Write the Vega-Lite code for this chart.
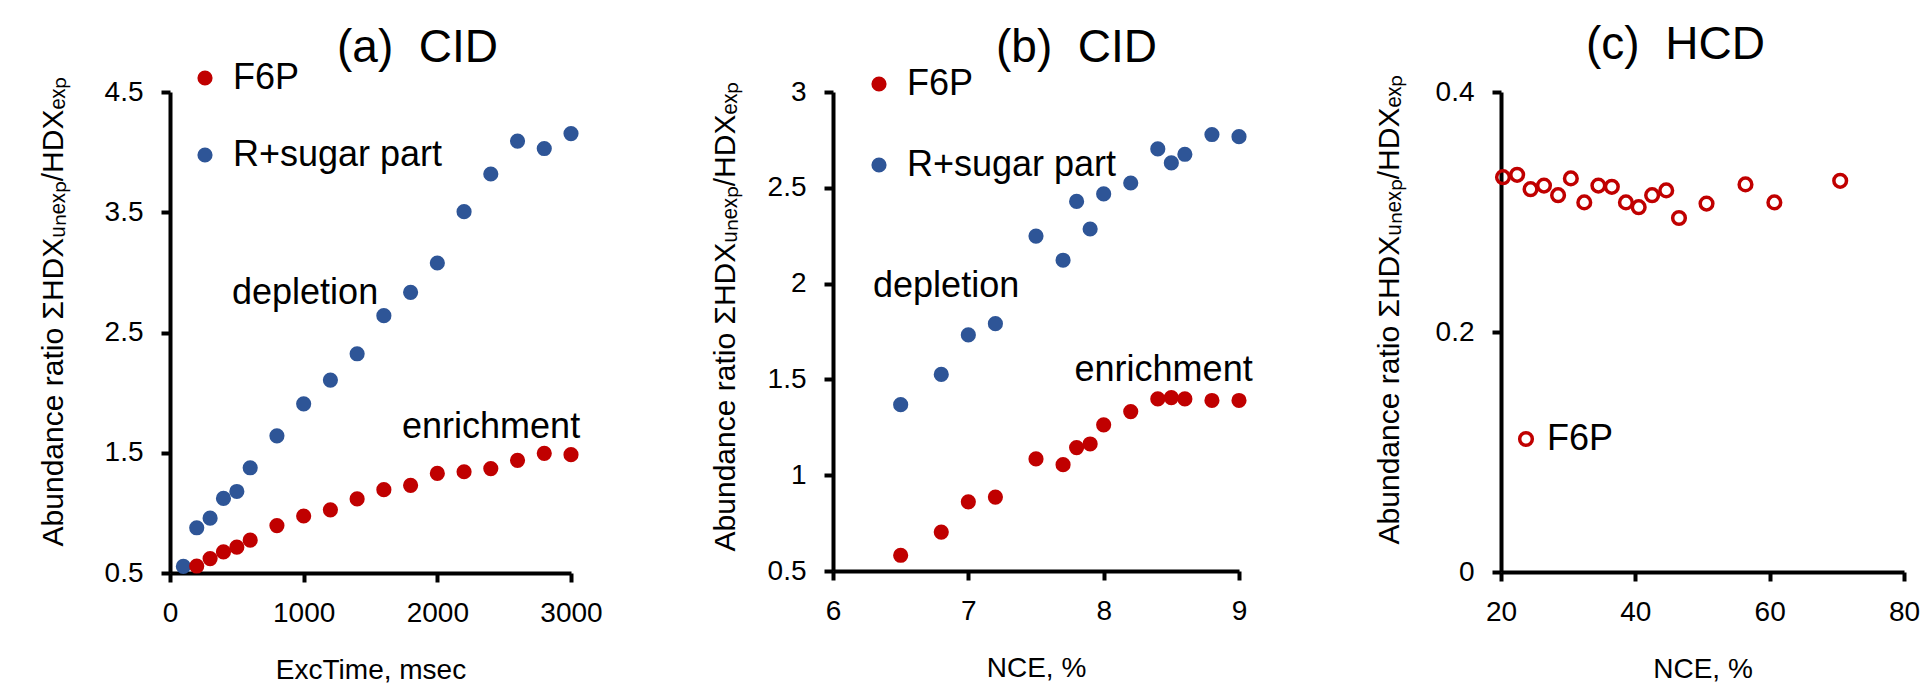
{
  "$schema": "https://vega.github.io/schema/vega-lite/v6.json",
  "padding": {"left": 38, "top": 22, "right": 0, "bottom": 0},
  "background": "white",
  "config": {
    "font": "Liberation Sans",
    "view": {"stroke": null},
    "axis": {
      "grid": false, "domainColor": "black", "domainWidth": 4,
      "tickColor": "black", "tickWidth": 4, "tickSize": 9,
      "labelColor": "black", "labelFont": "Liberation Sans", "labelFontSize": 28,
      "labelFlush": false, "labelOverlap": false,
      "titleFont": "Liberation Sans", "titleFontWeight": "normal", "titleColor": "black",
      "titleFontSize": 28, "format": "~r"
    },
    "axisX": {"labelPadding": 17, "titlePadding": 29},
    "axisY": {"labelPadding": 18, "titleFontSize": 30},
    "legend": {
      "title": null, "orient": "none", "padding": 0, "symbolType": "circle",
      "labelFont": "Liberation Sans", "labelFontSize": 36, "labelColor": "black",
      "labelLimit": 400, "labelOffset": 10
    },
    "title": {"font": "Liberation Sans", "fontSize": 46, "fontWeight": "normal", "anchor": "start", "frame": "group", "color": "black"}
  },
  "datasets": {
    "a": [
      {"series": "R+sugar part", "t": 100, "ratio": 0.555},
      {"series": "R+sugar part", "t": 200, "ratio": 0.876},
      {"series": "R+sugar part", "t": 300, "ratio": 0.956},
      {"series": "R+sugar part", "t": 400, "ratio": 1.12},
      {"series": "R+sugar part", "t": 500, "ratio": 1.178},
      {"series": "R+sugar part", "t": 600, "ratio": 1.375},
      {"series": "R+sugar part", "t": 800, "ratio": 1.641},
      {"series": "R+sugar part", "t": 1000, "ratio": 1.907},
      {"series": "R+sugar part", "t": 1200, "ratio": 2.104},
      {"series": "R+sugar part", "t": 1400, "ratio": 2.323},
      {"series": "R+sugar part", "t": 1600, "ratio": 2.64},
      {"series": "R+sugar part", "t": 1800, "ratio": 2.834},
      {"series": "R+sugar part", "t": 2000, "ratio": 3.078},
      {"series": "R+sugar part", "t": 2200, "ratio": 3.505},
      {"series": "R+sugar part", "t": 2400, "ratio": 3.818},
      {"series": "R+sugar part", "t": 2600, "ratio": 4.092},
      {"series": "R+sugar part", "t": 2800, "ratio": 4.03},
      {"series": "R+sugar part", "t": 3000, "ratio": 4.154},
      {"series": "F6P", "t": 200, "ratio": 0.558},
      {"series": "F6P", "t": 300, "ratio": 0.62},
      {"series": "F6P", "t": 400, "ratio": 0.675},
      {"series": "F6P", "t": 500, "ratio": 0.715},
      {"series": "F6P", "t": 600, "ratio": 0.773},
      {"series": "F6P", "t": 800, "ratio": 0.894},
      {"series": "F6P", "t": 1000, "ratio": 0.974},
      {"series": "F6P", "t": 1200, "ratio": 1.025},
      {"series": "F6P", "t": 1400, "ratio": 1.116},
      {"series": "F6P", "t": 1600, "ratio": 1.193},
      {"series": "F6P", "t": 1800, "ratio": 1.229},
      {"series": "F6P", "t": 2000, "ratio": 1.328},
      {"series": "F6P", "t": 2200, "ratio": 1.342},
      {"series": "F6P", "t": 2400, "ratio": 1.368},
      {"series": "F6P", "t": 2600, "ratio": 1.437},
      {"series": "F6P", "t": 2800, "ratio": 1.495},
      {"series": "F6P", "t": 3000, "ratio": 1.484}
    ],
    "annA": [
      {"t": 464, "ratio": 2.74, "label": "depletion"},
      {"t": 1736, "ratio": 1.62, "label": "enrichment"}
    ],
    "b": [
      {"series": "R+sugar part", "nce": 6.5, "ratio": 1.368},
      {"series": "R+sugar part", "nce": 6.8, "ratio": 1.526},
      {"series": "R+sugar part", "nce": 7.0, "ratio": 1.732},
      {"series": "R+sugar part", "nce": 7.2, "ratio": 1.791},
      {"series": "R+sugar part", "nce": 7.5, "ratio": 2.248},
      {"series": "R+sugar part", "nce": 7.7, "ratio": 2.122},
      {"series": "R+sugar part", "nce": 7.8, "ratio": 2.429},
      {"series": "R+sugar part", "nce": 7.9, "ratio": 2.285},
      {"series": "R+sugar part", "nce": 8.0, "ratio": 2.468},
      {"series": "R+sugar part", "nce": 8.2, "ratio": 2.525},
      {"series": "R+sugar part", "nce": 8.4, "ratio": 2.703},
      {"series": "R+sugar part", "nce": 8.5, "ratio": 2.63},
      {"series": "R+sugar part", "nce": 8.6, "ratio": 2.675},
      {"series": "R+sugar part", "nce": 8.8, "ratio": 2.778},
      {"series": "R+sugar part", "nce": 9.0, "ratio": 2.767},
      {"series": "F6P", "nce": 6.5, "ratio": 0.582},
      {"series": "F6P", "nce": 6.8, "ratio": 0.703},
      {"series": "F6P", "nce": 7.0, "ratio": 0.861},
      {"series": "F6P", "nce": 7.2, "ratio": 0.886},
      {"series": "F6P", "nce": 7.5, "ratio": 1.085},
      {"series": "F6P", "nce": 7.7, "ratio": 1.055},
      {"series": "F6P", "nce": 7.8, "ratio": 1.144},
      {"series": "F6P", "nce": 7.9, "ratio": 1.163},
      {"series": "F6P", "nce": 8.0, "ratio": 1.263},
      {"series": "F6P", "nce": 8.2, "ratio": 1.332},
      {"series": "F6P", "nce": 8.4, "ratio": 1.398},
      {"series": "F6P", "nce": 8.5, "ratio": 1.405},
      {"series": "F6P", "nce": 8.6, "ratio": 1.398},
      {"series": "F6P", "nce": 8.8, "ratio": 1.39},
      {"series": "F6P", "nce": 9.0, "ratio": 1.39}
    ],
    "annB": [
      {"nce": 6.296, "ratio": 1.93, "label": "depletion"},
      {"nce": 7.785, "ratio": 1.49, "label": "enrichment"}
    ],
    "c": [
      {"series": "F6P", "nce": 20.3, "ratio": 0.329},
      {"series": "F6P", "nce": 22.4, "ratio": 0.331},
      {"series": "F6P", "nce": 24.4, "ratio": 0.319},
      {"series": "F6P", "nce": 26.4, "ratio": 0.322},
      {"series": "F6P", "nce": 28.5, "ratio": 0.314},
      {"series": "F6P", "nce": 30.4, "ratio": 0.328},
      {"series": "F6P", "nce": 32.4, "ratio": 0.308},
      {"series": "F6P", "nce": 34.5, "ratio": 0.322},
      {"series": "F6P", "nce": 36.5, "ratio": 0.321},
      {"series": "F6P", "nce": 38.6, "ratio": 0.308},
      {"series": "F6P", "nce": 40.5, "ratio": 0.304},
      {"series": "F6P", "nce": 42.5, "ratio": 0.314},
      {"series": "F6P", "nce": 44.6, "ratio": 0.318},
      {"series": "F6P", "nce": 46.5, "ratio": 0.295},
      {"series": "F6P", "nce": 50.6, "ratio": 0.307},
      {"series": "F6P", "nce": 56.4, "ratio": 0.323},
      {"series": "F6P", "nce": 60.7, "ratio": 0.308},
      {"series": "F6P", "nce": 70.5, "ratio": 0.326}
    ]
  },
  "bounds": "flush",
  "spacing": 262,
  "hconcat": [
    {
      "width": 401, "height": 481,
      "title": {"text": "(a)\u00a0\u00a0CID", "dx": 167, "offset": -12},
      "layer": [
        {
          "data": {"name": "a"},
          "mark": {"type": "point", "filled": true, "size": 230, "opacity": 1},
          "encoding": {
            "x": {"field": "t", "type": "quantitative", "scale": {"domain": [0, 3000], "nice": false, "zero": false},
                  "axis": {"values": [0, 1000, 2000, 3000], "title": "ExcTime, msec"}},
            "y": {"field": "ratio", "type": "quantitative", "scale": {"domain": [0.5, 4.5], "nice": false, "zero": false},
                  "axis": {"values": [0.5, 1.5, 2.5, 3.5, 4.5], "title": "Abundance ratio ΣHDXᵤₙₑₓₚ/HDXₑₓₚ", "titlePadding": 36, "titleY": 219}},
            "color": {"field": "series", "type": "nominal",
                      "scale": {"domain": ["F6P", "R+sugar part"], "range": ["#C00000", "#2E5597"]},
                      "legend": {"legendX": 17, "legendY": -32, "rowPadding": 41, "symbolSize": 230}}
          }
        },
        {
          "data": {"name": "annA"},
          "mark": {"type": "text", "align": "left", "baseline": "alphabetic", "fontSize": 36, "color": "black", "font": "Liberation Sans"},
          "encoding": {
            "x": {"field": "t", "type": "quantitative"},
            "y": {"field": "ratio", "type": "quantitative"},
            "text": {"field": "label"}
          }
        }
      ]
    },
    {
      "width": 406, "height": 479,
      "title": {"text": "(b)\u00a0\u00a0CID", "dx": 163, "offset": -6},
      "layer": [
        {
          "data": {"name": "b"},
          "mark": {"type": "point", "filled": true, "size": 230, "opacity": 1},
          "encoding": {
            "x": {"field": "nce", "type": "quantitative", "scale": {"domain": [6, 9], "nice": false, "zero": false},
                  "axis": {"values": [6, 7, 8, 9], "title": "NCE, %"}},
            "y": {"field": "ratio", "type": "quantitative", "scale": {"domain": [0.5, 3], "nice": false, "zero": false},
                  "axis": {"values": [0.5, 1, 1.5, 2, 2.5, 3], "title": "Abundance ratio ΣHDXᵤₙₑₓₚ/HDXₑₓₚ", "titlePadding": 27, "titleY": 224}},
            "color": {"field": "series", "type": "nominal",
                      "scale": {"domain": ["F6P", "R+sugar part"], "range": ["#C00000", "#2E5597"]},
                      "legend": {"legendX": 28, "legendY": -26, "rowPadding": 45, "symbolSize": 230}}
          }
        },
        {
          "data": {"name": "annB"},
          "mark": {"type": "text", "align": "left", "baseline": "alphabetic", "fontSize": 36, "color": "black", "font": "Liberation Sans"},
          "encoding": {
            "x": {"field": "nce", "type": "quantitative"},
            "y": {"field": "ratio", "type": "quantitative"},
            "text": {"field": "label"}
          }
        }
      ]
    },
    {
      "width": 403, "height": 480,
      "title": {"text": "(c)\u00a0\u00a0HCD", "dx": 85, "offset": 5},
      "data": {"name": "c"},
      "mark": {"type": "point", "filled": false, "size": 160, "strokeWidth": 3.5, "opacity": 1},
      "encoding": {
        "x": {"field": "nce", "type": "quantitative", "scale": {"domain": [20, 80], "nice": false, "zero": false},
              "axis": {"values": [20, 40, 60, 80], "title": "NCE, %"}},
        "y": {"field": "ratio", "type": "quantitative", "scale": {"domain": [0, 0.4], "nice": false, "zero": false},
              "axis": {"values": [0, 0.2, 0.4], "title": "Abundance ratio ΣHDXᵤₙₑₓₚ/HDXₑₓₚ", "titlePadding": 31, "titleY": 217}},
        "color": {"field": "series", "type": "nominal",
                  "scale": {"domain": ["F6P"], "range": ["#C00000"]},
                  "legend": {"legendX": 7, "legendY": 329, "symbolSize": 160, "symbolStrokeWidth": 3.5, "labelOffset": 3}}
      }
    }
  ],
  "resolve": {"scale": {"color": "independent"}, "legend": {"color": "independent"}}
}
